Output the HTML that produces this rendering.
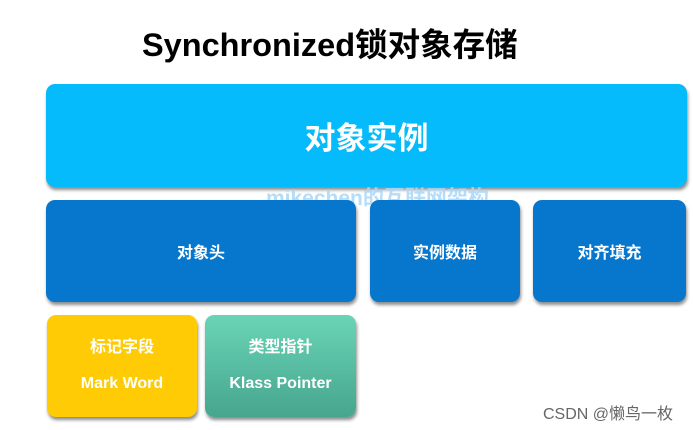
<!DOCTYPE html>
<html><head><meta charset="utf-8"><style>
body{margin:0;width:693px;height:430px;background:#fff;position:relative;overflow:hidden;font-family:"Liberation Sans","Noto Sans CJK SC",sans-serif}
.b{position:absolute;border-radius:9px;color:#fff;font-weight:bold;display:flex;flex-direction:column;align-items:center;justify-content:center;box-shadow:1px 3px 3px rgba(0,0,0,0.45)}
.d{background:#0677cc;font-size:16px}
</style></head><body>
<div style="position:absolute;left:142px;top:19px;font-size:32.5px;font-weight:bold;color:#000;white-space:nowrap">Synchronized锁对象存储</div>
<div class="b" style="left:46px;top:84px;width:641px;height:103px;background:#05bbfb;font-size:31px">对象实例</div>
<div style="position:absolute;left:266px;top:182px;font-size:21px;font-weight:bold;color:#a9d8fa;opacity:.85;white-space:nowrap">mikechen的互联网架构</div>
<div class="b d" style="left:46px;top:200px;width:310px;height:102px">对象头</div>
<div class="b d" style="left:370px;top:200px;width:150px;height:102px">实例数据</div>
<div class="b d" style="left:533px;top:200px;width:153px;height:102px">对齐填充</div>
<div class="b" style="left:47px;top:315px;width:150px;height:102px;background:#fecb05;font-size:16px;line-height:36px">标记字段<br><span>Mark Word</span></div>
<div class="b" style="left:205px;top:315px;width:151px;height:102px;background:linear-gradient(#6ad4b6,#46a68e);font-size:16px;line-height:36px">类型指针<br><span>Klass Pointer</span></div>
<div style="position:absolute;left:543px;top:400px;font-size:16px;color:#666;white-space:nowrap">CSDN @懒鸟一枚</div>
</body></html>
